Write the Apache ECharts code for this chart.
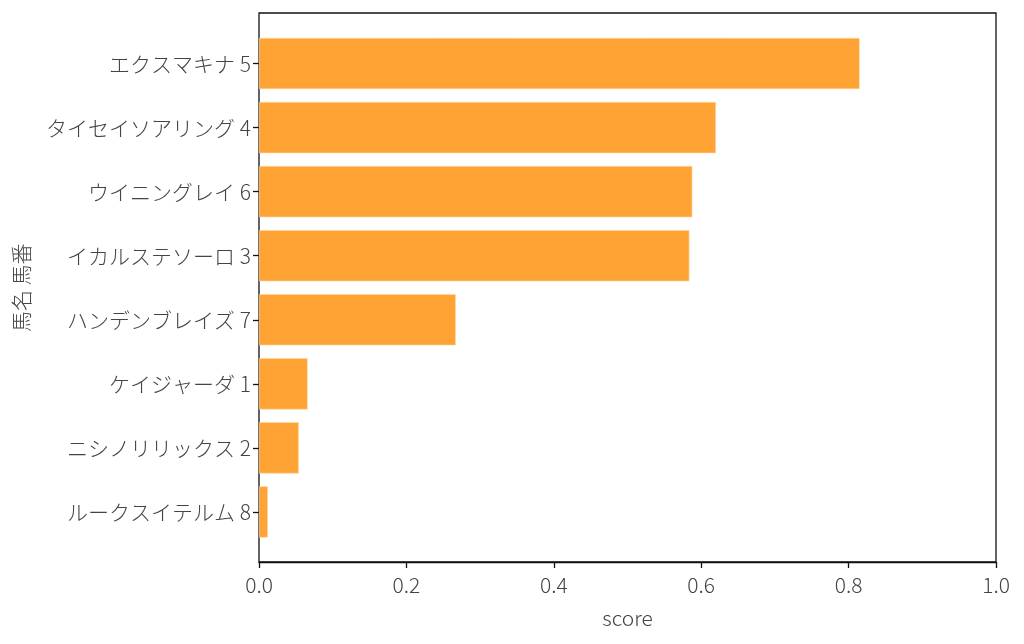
<!DOCTYPE html>
<html><head><meta charset="utf-8">
<script src="https://cdn.jsdelivr.net/npm/echarts@6/dist/echarts.min.js"></script>
<style>html,body{margin:0;padding:0;background:#fff}#c{width:1024px;height:644px}</style>
</head><body><div id="c"></div>
<script>
const categories = ['エクスマキナ 5','タイセイソアリング 4','ウイニングレイ 6','イカルステソーロ 3','ハンデンブレイズ 7','ケイジャーダ 1','ニシノリリックス 2','ルークスイテルム 8'];
const scores = [0.815, 0.620, 0.588, 0.584, 0.267, 0.066, 0.054, 0.012];
const xTicks = [0, 0.2, 0.4, 0.6, 0.8, 1.0];

const font = '"Noto Sans CJK JP", "Noto Sans", sans-serif';
const txt = {fontFamily: font, fontSize: 21, fontWeight: 300, color: '#444'};
const chart = echarts.init(document.getElementById('c'));
chart.setOption({
  animation: false,
  backgroundColor: '#fff',
  grid: [
    {left: 259, right: 28, top: 13, bottom: 82, show: true, borderColor: '#111', borderWidth: 1.3, backgroundColor: 'transparent'},
    {left: 259, right: 28, top: 31.5, bottom: 100}
  ],
  xAxis: [{
    gridIndex: 0, type: 'value', min: xTicks[0], max: xTicks[xTicks.length-1], interval: 0.2,
    name: 'score', nameLocation: 'middle', nameGap: 46,
    nameTextStyle: txt,
    axisLine: {show: true, lineStyle: {color: '#111', width: 1.3}},
    axisTick: {show: true, length: 6, lineStyle: {color: '#111', width: 1.3}},
    axisLabel: Object.assign({margin: 13, formatter: v => v.toFixed(1)}, txt),
    splitLine: {show: false}
  }, {
    gridIndex: 1, type: 'value', min: xTicks[0], max: xTicks[xTicks.length-1], show: false
  }],
  yAxis: [{
    gridIndex: 0, type: 'value', min: 0, max: 1, show: false
  }, {
    gridIndex: 1, type: 'category', data: categories, inverse: true,
    name: '馬名 馬番', nameLocation: 'middle', nameGap: 227, nameRotate: 90, nameMoveOverlap: false,
    nameTextStyle: txt,
    axisLine: {show: false},
    axisTick: {show: true, alignWithLabel: true, length: 6, lineStyle: {color: '#111', width: 1.3}},
    axisLabel: Object.assign({margin: 8}, txt),
    splitLine: {show: false}
  }],
  series: [{
    type: 'bar', xAxisIndex: 1, yAxisIndex: 1, data: scores, barCategoryGap: '20%',
    itemStyle: {color: '#FFA334', borderColor: '#FFD9A8', borderWidth: 0.6}
  }]
});
</script></body></html>
